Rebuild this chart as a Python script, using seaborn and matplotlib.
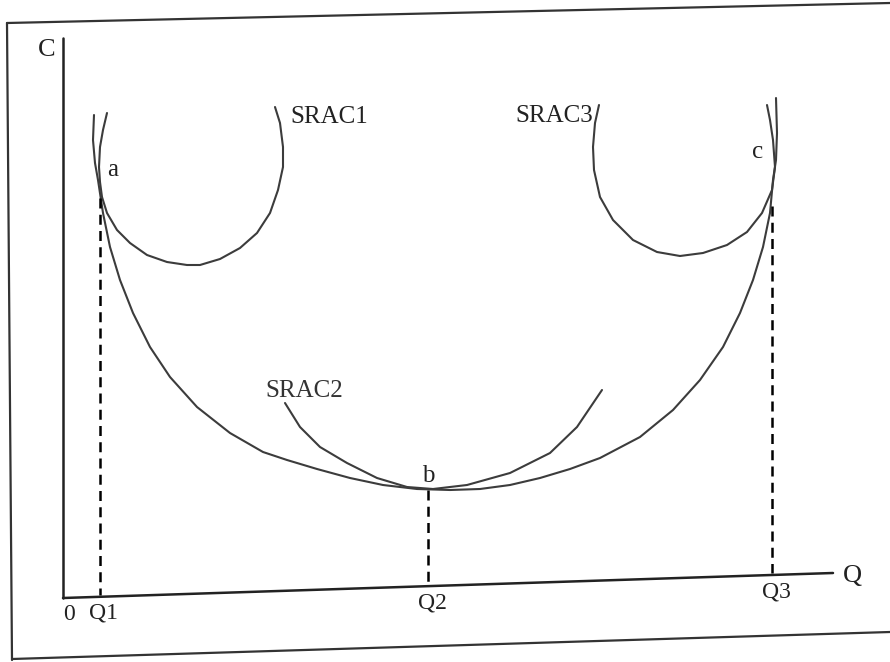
import pandas as pd
import matplotlib.pyplot as plt
import seaborn as sns

# Long-run and short-run average cost curves
# (Q = output, C = cost, both in the picture's own units)
lrac_q = [31, 30, 32, 35, 40, 47, 57, 70, 87, 107, 134, 167, 200, 224, 254, 287, 320, 354, 387,
          417, 447, 477, 507, 537, 577, 610, 637, 660, 677, 690, 700, 707, 710, 713, 714, 713]
lrac_c = [483, 458, 435, 418, 385, 351, 318, 285, 251, 221, 191, 165, 146, 138, 129, 120, 113, 109, 108,
          109, 113, 120, 129, 140, 161, 188, 218, 251, 285, 318, 351, 385, 418, 438, 465, 500]

srac1_q = [44, 40, 37, 36, 37, 39, 44, 54, 67, 84, 104, 124, 137, 157, 177, 194, 207, 215, 220, 220, 217, 212]
srac1_c = [485, 468, 451, 431, 416, 401, 385, 368, 355, 343, 336, 333, 333, 339, 350, 365, 385, 408, 431, 451, 475, 491]

srac2_q = [222, 237, 257, 284, 314, 344, 370, 404, 447, 487, 514, 539]
srac2_c = [195, 171, 151, 135, 120, 111, 109, 113, 125, 145, 171, 208]

srac3_q = [536, 532, 530, 531, 537, 550, 570, 594, 617, 640, 664, 684, 699, 709, 712, 710, 707, 704]
srac3_c = [493, 475, 451, 428, 401, 378, 358, 346, 342, 345, 353, 366, 385, 408, 431, 458, 478, 493]

# tangency points a, b, c and the output levels below them
point_labels = ['a', 'b', 'c']
q_levels = [37, 365, 709]
q_labels = ['Q1', 'Q2', 'Q3']
drop_top = [400, 108, 392]

curve_labels = ['SRAC1', 'SRAC2', 'SRAC3']

sns.set_style('white')
plt.rcParams['font.family'] = ['Liberation Serif', 'DejaVu Serif']

fig = plt.figure(figsize=(8.9, 6.62), dpi=100)
ax = fig.add_axes([0, 0, 1, 1])
ax.set_xlim(-63, 827)
ax.set_ylim(-64, 598)
ax.axis('off')

curve_color = '#3c3c3c'
ink = '#222222'

# page frame (photo is slightly rotated)
ax.plot([-56, 827], [575, 595], color='#333333', lw=1.6, clip_on=False)
ax.plot([-56, -51], [575, -62], color='#333333', lw=1.6, clip_on=False)
ax.plot([-51, 827], [-61, -34], color='#333333', lw=1.6, clip_on=False)

# axes, x-axis rises slightly like in the photo
axis_end_q, axis_end_c = 770, 25
tilt = axis_end_c / axis_end_q
ax.plot([0, 0], [0, 560], color=ink, lw=1.8)
ax.plot([0, axis_end_q], [0, axis_end_c], color=ink, lw=1.8)

curves = [(lrac_q, lrac_c), (srac1_q, srac1_c), (srac2_q, srac2_c), (srac3_q, srac3_c)]
for qs, cs in curves:
    df = pd.DataFrame({'Q': qs, 'C': cs})
    sns.lineplot(data=df, x='Q', y='C', sort=False, estimator=None,
                 color=curve_color, lw=1.5, solid_joinstyle='round', ax=ax)

# dashed drop lines from the tangency points to the Q axis
for q, top in zip(q_levels, drop_top):
    ax.plot([q, q], [top, q * tilt + 2], color='black', lw=1.8,
            linestyle=(0, (4, 2.5)))

fs = 18
ax.text(-16, 548, 'C', fontsize=19, ha='center', va='center', color=ink)
ax.text(789, 22, 'Q', fontsize=19, ha='center', va='center', color=ink)
ax.text(6, -16, '0', fontsize=17, ha='center', va='center', color=ink)

label_offsets = [-16, -17, -17]
for q, lab, off in zip(q_levels, q_labels, label_offsets):
    ax.text(q + 4, q * tilt + off, lab, fontsize=17, ha='center', va='center', color=ink)

pt_pos = [(50, 428), (365, 122), (695, 446)]
for (x, y), lab in zip(pt_pos, point_labels):
    ax.text(x, y, lab, fontsize=fs, ha='center', va='center', color=ink)

ax.text(227, 481, curve_labels[0], fontsize=fs, ha='left', va='center', color=ink)
ax.text(202, 207, curve_labels[1], fontsize=fs, ha='left', va='center', color='#333333')
ax.text(530, 482, curve_labels[2], fontsize=fs, ha='right', va='center', color=ink)

fig.savefig('out.png', dpi=100)
